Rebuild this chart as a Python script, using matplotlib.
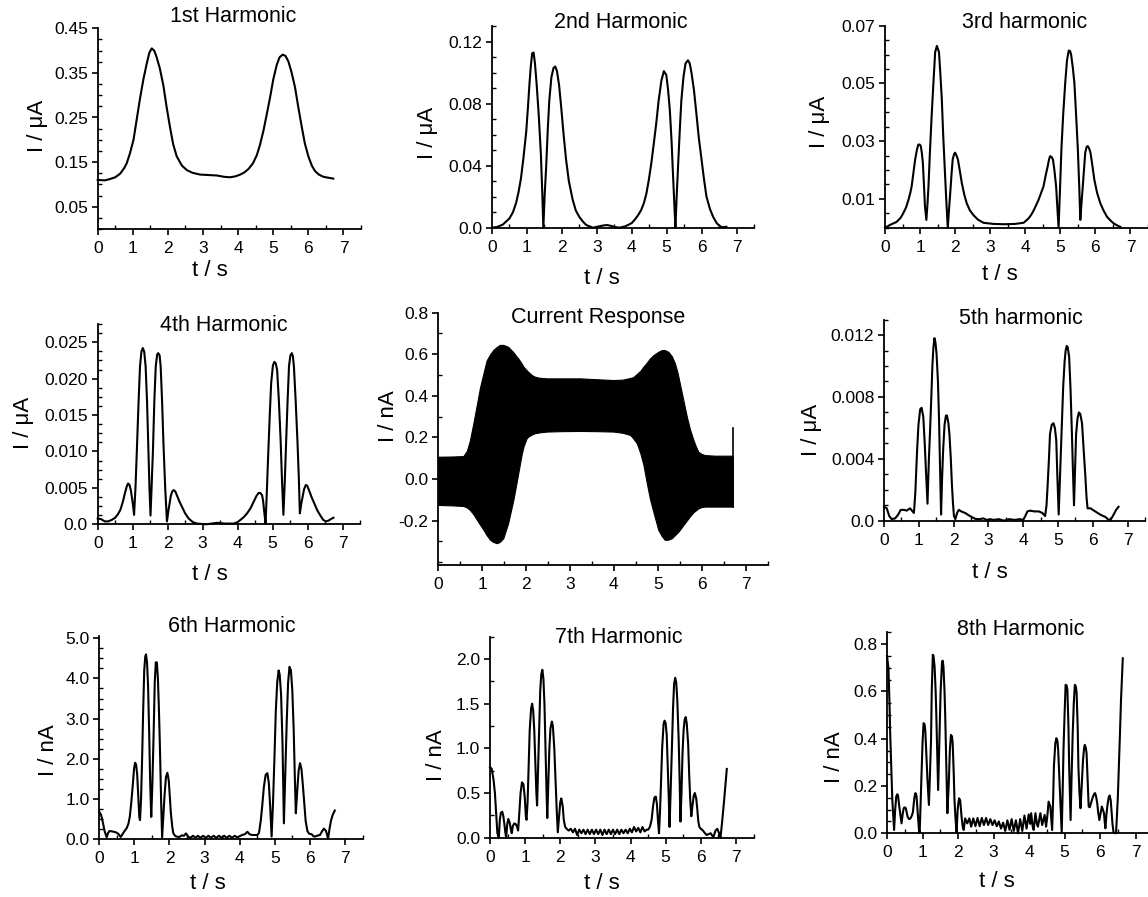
import matplotlib
matplotlib.use("Agg")
import matplotlib.pyplot as plt
from matplotlib.ticker import AutoMinorLocator

plt.rcParams['font.family'] = ['Liberation Sans', 'DejaVu Sans']

# ---- data (t in s) ----
# 1st harmonic (uA)
t_h1 = [0, 0.2, 0.35, 0.5, 0.64, 0.75, 0.83, 0.92, 1.02, 1.1, 1.2, 1.3, 1.4, 1.47, 1.54, 1.61,
        1.68, 1.77, 1.87, 1.96, 2.06, 2.15, 2.25, 2.4, 2.54, 2.7, 2.92, 3.15, 3.39, 3.6, 3.77,
        3.92, 4.06, 4.18, 4.3, 4.42, 4.53, 4.62, 4.72, 4.81, 4.91, 5.0, 5.1, 5.18, 5.27, 5.35,
        5.43, 5.52, 5.62, 5.71, 5.81, 5.9, 6.0, 6.1, 6.19, 6.3, 6.43, 6.57, 6.71]
i_h1 = [0.110, 0.109, 0.112, 0.116, 0.124, 0.136, 0.148, 0.170, 0.200, 0.240, 0.290, 0.335,
        0.372, 0.395, 0.405, 0.400, 0.385, 0.360, 0.322, 0.275, 0.228, 0.190, 0.163, 0.142,
        0.132, 0.126, 0.122, 0.121, 0.120, 0.117, 0.116, 0.118, 0.122, 0.127, 0.135, 0.147,
        0.165, 0.188, 0.220, 0.255, 0.295, 0.335, 0.368, 0.385, 0.391, 0.388, 0.376, 0.352,
        0.318, 0.275, 0.230, 0.192, 0.163, 0.142, 0.130, 0.122, 0.117, 0.115, 0.113]

# 2nd harmonic (uA)
t_h2 = [0, 0.15, 0.31, 0.5, 0.6, 0.69, 0.76, 0.83, 0.9, 0.98, 1.03, 1.07, 1.11, 1.15, 1.19,
        1.23, 1.28, 1.34, 1.4, 1.44, 1.47, 1.51, 1.55, 1.6, 1.64, 1.7, 1.76, 1.81, 1.86, 1.92,
        1.98, 2.05, 2.12, 2.2, 2.31, 2.4, 2.5, 2.6, 2.7, 2.89, 3.05, 3.2, 3.3, 3.4, 3.5, 3.65,
        3.8, 3.89, 4.0, 4.08, 4.18, 4.27, 4.35, 4.42, 4.49, 4.56, 4.63, 4.7, 4.77, 4.85, 4.92,
        4.99, 5.04, 5.09, 5.14, 5.18, 5.22, 5.25, 5.29, 5.33, 5.38, 5.42, 5.48, 5.54, 5.61,
        5.66, 5.71, 5.78, 5.85, 5.92, 6.0, 6.07, 6.14, 6.24, 6.33, 6.43, 6.52, 6.6, 6.71]
i_h2 = [0, 0.0005, 0.002, 0.006, 0.010, 0.016, 0.023, 0.032, 0.045, 0.062, 0.078, 0.092,
        0.104, 0.1125, 0.113, 0.106, 0.092, 0.072, 0.047, 0.022, 0.0, 0.022, 0.039, 0.065,
        0.082, 0.097, 0.103, 0.104, 0.101, 0.092, 0.078, 0.060, 0.044, 0.030, 0.018, 0.011,
        0.007, 0.004, 0.0017, 0.0, 0.0008, 0.0015, 0.0017, 0.0012, 0.0005, 0.0, 0.0008,
        0.0017, 0.003, 0.005, 0.008, 0.0114, 0.016, 0.022, 0.031, 0.0415, 0.054, 0.067,
        0.082, 0.095, 0.101, 0.0985, 0.089, 0.076, 0.056, 0.035, 0.015, 0.0, 0.022, 0.0415,
        0.065, 0.082, 0.097, 0.106, 0.108, 0.106, 0.100, 0.089, 0.0738, 0.058, 0.0437,
        0.031, 0.020, 0.012, 0.007, 0.003, 0.001, 0.0003, 0.0006]

# 3rd harmonic (uA)
t_h3 = [0, 0.15, 0.33, 0.45, 0.52, 0.6, 0.67, 0.72, 0.76, 0.81, 0.86, 0.91, 0.95, 0.99, 1.02,
        1.05, 1.08, 1.11, 1.14, 1.18, 1.21, 1.24, 1.28, 1.33, 1.38, 1.43, 1.48, 1.54, 1.58,
        1.62, 1.66, 1.71, 1.75, 1.79, 1.83, 1.86, 1.9, 1.93, 1.97, 2.0, 2.04, 2.08, 2.13, 2.19,
        2.26, 2.33, 2.42, 2.52, 2.65, 2.81, 3.1, 3.38, 3.7, 3.95, 4.03, 4.1, 4.17, 4.24, 4.31,
        4.38, 4.45, 4.52, 4.58, 4.64, 4.68, 4.71, 4.75, 4.79, 4.83, 4.88, 4.91, 4.95, 4.99,
        5.03, 5.08, 5.14, 5.19, 5.24, 5.28, 5.31, 5.36, 5.4, 5.45, 5.5, 5.54, 5.57, 5.6, 5.64,
        5.68, 5.71, 5.75, 5.78, 5.82, 5.86, 5.92, 5.97, 6.05, 6.14, 6.23, 6.33, 6.43, 6.52,
        6.62, 6.71]
i_h3 = [0, 0.001, 0.002, 0.0035, 0.005, 0.007, 0.0097, 0.012, 0.0143, 0.019, 0.0236, 0.027,
        0.0288, 0.0288, 0.0283, 0.026, 0.0224, 0.015, 0.0073, 0.0027, 0.008, 0.0143, 0.026,
        0.0387, 0.050, 0.0608, 0.063, 0.0608, 0.053, 0.0445, 0.032, 0.019, 0.009, 0.0, 0.007,
        0.012, 0.019, 0.0236, 0.0255, 0.026, 0.025, 0.0236, 0.020, 0.0155, 0.0115, 0.0085,
        0.006, 0.0044, 0.0028, 0.0017, 0.0013, 0.0012, 0.0013, 0.0017, 0.0025, 0.0033,
        0.0045, 0.006, 0.0078, 0.0097, 0.012, 0.0143, 0.018, 0.0213, 0.0238, 0.0248, 0.0245,
        0.0236, 0.020, 0.0143, 0.008, 0.0, 0.013, 0.027, 0.039, 0.0503, 0.058, 0.0614, 0.0612,
        0.0598, 0.055, 0.0503, 0.039, 0.027, 0.014, 0.0027, 0.008, 0.0143, 0.021, 0.026,
        0.028, 0.0283, 0.0275, 0.026, 0.021, 0.0166, 0.012, 0.0085, 0.006, 0.0038, 0.0025,
        0.0015, 0.0008, 0.0003]

# 4th harmonic (uA)
t_h4 = [0, 0.1, 0.2, 0.3, 0.4, 0.5, 0.58, 0.65, 0.72, 0.78, 0.83, 0.87, 0.91, 0.95, 0.99,
        1.02, 1.04, 1.08, 1.12, 1.17, 1.21, 1.25, 1.29, 1.33, 1.37, 1.41, 1.45, 1.48, 1.51,
        1.54, 1.58, 1.62, 1.66, 1.7, 1.73, 1.77, 1.8, 1.84, 1.88, 1.93, 1.98, 2.02, 2.05, 2.09,
        2.13, 2.17, 2.22, 2.28, 2.35, 2.41, 2.5, 2.6, 2.72, 2.84, 3.1, 3.41, 3.65, 3.89, 4.0,
        4.08, 4.18, 4.27, 4.37, 4.46, 4.54, 4.6, 4.65, 4.7, 4.73, 4.76, 4.8, 4.84, 4.88, 4.92,
        4.96, 5.01, 5.05, 5.09, 5.13, 5.18, 5.23, 5.27, 5.31, 5.35, 5.39, 5.43, 5.47, 5.51,
        5.55, 5.58, 5.61, 5.66, 5.71, 5.75, 5.78, 5.82, 5.86, 5.9, 5.95, 5.99, 6.04, 6.11,
        6.19, 6.28, 6.38, 6.45, 6.52, 6.6, 6.66, 6.74]
i_h4 = [0.0008, 0.0007, 0.0004, 0.0004, 0.0006, 0.0009, 0.0014, 0.002, 0.0031, 0.0043,
        0.0052, 0.0056, 0.0054, 0.0046, 0.0033, 0.0022, 0.0013, 0.005, 0.0102, 0.017, 0.0217,
        0.0237, 0.0242, 0.0237, 0.0217, 0.017, 0.0102, 0.005, 0.0012, 0.005, 0.0102, 0.017,
        0.0217, 0.0233, 0.0235, 0.0232, 0.0217, 0.017, 0.0111, 0.005, 0.0004, 0.0018, 0.0027,
        0.0039, 0.0045, 0.0047, 0.0045, 0.0038, 0.003, 0.0024, 0.0015, 0.0008, 0.0003, 0.0001,
        0.0, 0.0002, 0.0001, 0.0001, 0.0003, 0.0006, 0.001, 0.0015, 0.0022, 0.0031, 0.0039,
        0.0043, 0.0043, 0.004, 0.0032, 0.0018, 0.0001, 0.005, 0.0102, 0.015, 0.0194, 0.0218,
        0.0223, 0.0221, 0.0212, 0.017, 0.0116, 0.006, 0.0013, 0.006, 0.0116, 0.017, 0.0217,
        0.0232, 0.0235, 0.0231, 0.0217, 0.017, 0.0116, 0.0065, 0.0015, 0.0028, 0.0038, 0.0048,
        0.0054, 0.0053, 0.0047, 0.0038, 0.0029, 0.0019, 0.0011, 0.0006, 0.0004, 0.0005,
        0.0007, 0.0009]

# current response envelope (nA)
t_cur = [0, 0.3, 0.57, 0.65, 0.72, 0.8, 0.88, 0.95, 1.03, 1.1, 1.18, 1.25, 1.33, 1.4, 1.48,
         1.59, 1.71, 1.78, 1.82, 1.9, 1.94, 2.01, 2.05, 2.13, 2.2, 2.3, 2.47, 2.8, 3.23, 3.6,
         3.99, 4.2, 4.37, 4.44, 4.52, 4.6, 4.67, 4.75, 4.82, 4.9, 5.01, 5.09, 5.16, 5.24, 5.32,
         5.39, 5.45, 5.5, 5.58, 5.66, 5.73, 5.81, 5.86, 5.92, 6.0, 6.07, 6.3, 6.5, 6.71]
cur_hi = [0.107, 0.108, 0.110, 0.135, 0.185, 0.27, 0.36, 0.44, 0.51, 0.57, 0.60, 0.62, 0.635,
          0.645, 0.645, 0.636, 0.61, 0.59, 0.58, 0.555, 0.54, 0.524, 0.515, 0.50, 0.492, 0.487,
          0.484, 0.484, 0.484, 0.48, 0.476, 0.478, 0.486, 0.49, 0.505, 0.52, 0.54, 0.56, 0.58,
          0.596, 0.612, 0.62, 0.62, 0.612, 0.59, 0.556, 0.51, 0.46, 0.38, 0.30, 0.24, 0.188,
          0.16, 0.131, 0.12, 0.115, 0.112, 0.112, 0.112]
cur_lo = [-0.125, -0.127, -0.13, -0.137, -0.149, -0.17, -0.197, -0.22, -0.245, -0.27, -0.293,
          -0.303, -0.309, -0.303, -0.285, -0.213, -0.1, -0.02, 0.027, 0.12, 0.156, 0.195,
          0.204, 0.214, 0.22, 0.224, 0.228, 0.23, 0.231, 0.23, 0.228, 0.222, 0.212, 0.195,
          0.172, 0.125, 0.07, -0.021, -0.095, -0.16, -0.245, -0.275, -0.293, -0.292, -0.285,
          -0.27, -0.258, -0.245, -0.222, -0.2, -0.18, -0.16, -0.152, -0.142, -0.135, -0.133,
          -0.133, -0.133, -0.133]
t_spike = [6.72, 6.72]
i_spike = [-0.133, 0.244]

# 5th harmonic (uA)
t_h5 = [0, 0.08, 0.15, 0.22, 0.32, 0.41, 0.48, 0.58, 0.65, 0.75, 0.82, 0.86, 0.9, 0.95, 0.99,
        1.04, 1.08, 1.13, 1.17, 1.2, 1.25, 1.29, 1.32, 1.36, 1.39, 1.42, 1.45, 1.48, 1.51, 1.55,
        1.58, 1.61, 1.64, 1.67, 1.7, 1.74, 1.78, 1.81, 1.85, 1.88, 1.92, 1.95, 1.98, 2.01, 2.05,
        2.1, 2.15, 2.22, 2.33, 2.47, 2.62, 2.75, 2.86, 2.95, 3.05, 3.15, 3.3, 3.45, 3.6, 3.75,
        3.9, 4.0, 4.06, 4.12, 4.2, 4.32, 4.45, 4.55, 4.63, 4.67, 4.7, 4.74, 4.77, 4.82, 4.87,
        4.91, 4.95, 4.98, 5.02, 5.06, 5.11, 5.15, 5.19, 5.22, 5.25, 5.28, 5.32, 5.36, 5.4, 5.43,
        5.46, 5.49, 5.52, 5.56, 5.6, 5.64, 5.69, 5.74, 5.78, 5.82, 5.85, 5.9, 5.94, 6.0, 6.07,
        6.14, 6.21, 6.3, 6.36, 6.43, 6.5, 6.55, 6.6, 6.67, 6.74]
i_h5 = [0.0009, 0.0008, 0.0003, 0.0001, 0.00015, 0.0004, 0.0007, 0.0007, 0.00065, 0.0008,
        0.0006, 0.0005, 0.0018, 0.0045, 0.0062, 0.0072, 0.0073, 0.0067, 0.005, 0.0035, 0.0011,
        0.004, 0.0056, 0.008, 0.010, 0.0112, 0.0118, 0.0115, 0.0108, 0.009, 0.0067, 0.0035,
        0.0004, 0.0028, 0.0046, 0.0062, 0.0068, 0.0068, 0.0063, 0.0056, 0.004, 0.0024, 0.0012,
        0.0003, 0.0001, 0.0005, 0.0007, 0.0006, 0.0005, 0.0003, 0.00012, 0.0001, 0.00015,
        0.00005, 0.0001, 0.00005, 0.0001, 0.0, 0.0001, 0.00005, 0.0001, 0.00005, 0.0003, 0.0006,
        0.00065, 0.0006, 0.0006, 0.0005, 0.0003, 0.001, 0.0022, 0.004, 0.0056, 0.0062, 0.0063,
        0.006, 0.0052, 0.003, 0.0004, 0.003, 0.0062, 0.0087, 0.0103, 0.011, 0.0113, 0.0112,
        0.0106, 0.0085, 0.0056, 0.0032, 0.001, 0.0033, 0.0056, 0.0066, 0.007, 0.0069, 0.0063,
        0.0045, 0.0031, 0.0015, 0.0008, 0.0008, 0.0008, 0.0007, 0.0006, 0.0005, 0.0004, 0.0003,
        0.00025, 0.0001, 0.00004, 0.0002, 0.0004, 0.0007, 0.0009]

# 6th harmonic (nA)
t_h6 = [0, 0.05, 0.1, 0.15, 0.21, 0.25, 0.29, 0.35, 0.42, 0.49, 0.55, 0.61, 0.66, 0.72, 0.78,
        0.83, 0.87, 0.91, 0.95, 0.99, 1.02, 1.05, 1.08, 1.11, 1.14, 1.16, 1.19, 1.22, 1.25,
        1.28, 1.31, 1.33, 1.36, 1.39, 1.42, 1.45, 1.48, 1.51, 1.55, 1.58, 1.61, 1.64, 1.67,
        1.7, 1.73, 1.76, 1.79, 1.82, 1.86, 1.9, 1.94, 1.98, 2.01, 2.04, 2.08, 2.11, 2.16, 2.2,
        2.28, 2.35, 2.41, 2.47, 2.53, 2.6, 2.67, 2.74, 2.81, 2.88, 2.96, 3.03, 3.11, 3.18,
        3.26, 3.33, 3.41, 3.48, 3.56, 3.63, 3.71, 3.78, 3.86, 3.93, 4.0, 4.07, 4.15, 4.22,
        4.28, 4.35, 4.43, 4.5, 4.55, 4.6, 4.64, 4.69, 4.74, 4.79, 4.83, 4.87, 4.91, 4.95,
        4.99, 5.03, 5.07, 5.11, 5.14, 5.18, 5.22, 5.26, 5.3, 5.34, 5.38, 5.42, 5.46, 5.5,
        5.54, 5.57, 5.6, 5.64, 5.68, 5.72, 5.76, 5.8, 5.84, 5.88, 5.93, 5.98, 6.05, 6.1, 6.14,
        6.2, 6.29, 6.34, 6.4, 6.46, 6.5, 6.52, 6.56, 6.6, 6.65, 6.71]
i_h6 = [0.68, 0.6, 0.42, 0.2, 0.04, 0.15, 0.2, 0.19, 0.18, 0.16, 0.12, 0.05, 0.12, 0.2, 0.27,
        0.38, 0.56, 0.9, 1.3, 1.75, 1.9, 1.85, 1.6, 1.1, 0.55, 0.47, 1.0, 2.0, 3.2, 4.2, 4.55,
        4.6, 4.4, 3.8, 2.7, 1.4, 0.55, 1.3, 2.7, 3.9, 4.4, 4.4, 4.0, 3.2, 2.2, 1.0, 0.04, 0.5,
        1.1, 1.55, 1.65, 1.45, 1.05, 0.64, 0.3, 0.14, 0.08, 0.06, 0.05, 0.09, 0.08, 0.14, 0.06,
        0.03, 0.08, 0.03, 0.08, 0.03, 0.08, 0.03, 0.08, 0.03, 0.08, 0.03, 0.08, 0.03, 0.08,
        0.03, 0.08, 0.03, 0.08, 0.04, 0.07, 0.1, 0.12, 0.18, 0.12, 0.1, 0.1, 0.1, 0.15, 0.45,
        0.8, 1.3, 1.6, 1.64, 1.4, 0.8, 0.06, 0.9, 2.0, 3.2, 3.9, 4.2, 4.1, 3.6, 2.4, 0.39,
        1.6, 2.9, 3.9, 4.29, 4.2, 3.7, 2.7, 1.6, 0.64, 1.2, 1.7, 1.89, 1.75, 1.35, 0.9, 0.45,
        0.2, 0.13, 0.12, 0.07, 0.06, 0.08, 0.1, 0.18, 0.26, 0.2, 0.08, 0.02, 0.25, 0.45, 0.6,
        0.71]

# 7th harmonic (nA)
t_h7 = [0, 0.05, 0.1, 0.14, 0.18, 0.21, 0.25, 0.28, 0.31, 0.35, 0.38, 0.41, 0.44, 0.46, 0.49,
        0.52, 0.56, 0.59, 0.62, 0.65, 0.69, 0.74, 0.77, 0.8, 0.83, 0.87, 0.91, 0.95, 0.99,
        1.02, 1.04, 1.07, 1.1, 1.13, 1.17, 1.2, 1.23, 1.26, 1.29, 1.32, 1.34, 1.37, 1.4, 1.43,
        1.46, 1.49, 1.52, 1.55, 1.58, 1.61, 1.63, 1.66, 1.69, 1.72, 1.76, 1.79, 1.83, 1.87,
        1.9, 1.93, 1.96, 2.0, 2.03, 2.07, 2.1, 2.14, 2.18, 2.24, 2.3, 2.36, 2.42, 2.48, 2.54,
        2.6, 2.66, 2.72, 2.78, 2.84, 2.9, 2.96, 3.02, 3.08, 3.14, 3.2, 3.26, 3.32, 3.38, 3.44,
        3.5, 3.56, 3.62, 3.68, 3.74, 3.8, 3.86, 3.92, 3.98, 4.04, 4.1, 4.16, 4.22, 4.28, 4.34,
        4.4, 4.46, 4.5, 4.55, 4.6, 4.64, 4.68, 4.72, 4.75, 4.78, 4.81, 4.84, 4.87, 4.9, 4.94,
        4.97, 5.0, 5.03, 5.06, 5.09, 5.11, 5.14, 5.18, 5.21, 5.24, 5.27, 5.3, 5.33, 5.37, 5.4,
        5.42, 5.45, 5.48, 5.51, 5.54, 5.57, 5.6, 5.64, 5.67, 5.7, 5.73, 5.76, 5.8, 5.83, 5.87,
        5.9, 5.93, 5.96, 6.0, 6.06, 6.12, 6.17, 6.22, 6.28, 6.33, 6.36, 6.42, 6.47, 6.52, 6.56,
        6.6, 6.66, 6.74]
i_h7 = [0.79, 0.77, 0.65, 0.5, 0.25, 0.05, 0.0, 0.2, 0.28, 0.29, 0.24, 0.15, 0.05, 0.0, 0.15,
        0.21, 0.17, 0.1, 0.05, 0.13, 0.16, 0.15, 0.12, 0.08, 0.25, 0.5, 0.62, 0.6, 0.45, 0.24,
        0.2, 0.4, 0.8, 1.2, 1.45, 1.5, 1.42, 1.2, 0.85, 0.5, 0.36, 0.8, 1.25, 1.65, 1.83, 1.88,
        1.78, 1.5, 0.98, 0.5, 0.22, 0.6, 1.0, 1.22, 1.3, 1.25, 1.0, 0.6, 0.3, 0.06, 0.2, 0.4,
        0.44, 0.35, 0.2, 0.12, 0.1, 0.08, 0.1, 0.06, 0.1, 0.03, 0.09, 0.05, 0.09, 0.04, 0.09,
        0.04, 0.09, 0.04, 0.09, 0.04, 0.09, 0.03, 0.09, 0.04, 0.09, 0.04, 0.09, 0.04, 0.09,
        0.04, 0.09, 0.05, 0.09, 0.05, 0.1, 0.06, 0.12, 0.07, 0.11, 0.06, 0.12, 0.07, 0.09,
        0.09, 0.12, 0.2, 0.35, 0.45, 0.46, 0.38, 0.2, 0.05, 0.3, 0.65, 1.0, 1.27, 1.31, 1.28,
        1.15, 0.8, 0.42, 0.12, 0.5, 1.05, 1.45, 1.72, 1.79, 1.74, 1.55, 1.1, 0.6, 0.18, 0.5,
        0.95, 1.2, 1.32, 1.35, 1.28, 1.05, 0.7, 0.42, 0.24, 0.35, 0.47, 0.5, 0.44, 0.32, 0.18,
        0.12, 0.1, 0.08, 0.05, 0.03, 0.04, 0.05, 0.02, 0.01, 0.08, 0.1, 0.05, 0.0, 0.15, 0.4,
        0.77]

# 8th harmonic (nA)
t_h8 = [0, 0.04, 0.07, 0.09, 0.12, 0.15, 0.2, 0.23, 0.26, 0.29, 0.31, 0.34, 0.37, 0.41, 0.44,
        0.47, 0.5, 0.53, 0.58, 0.62, 0.66, 0.7, 0.73, 0.77, 0.8, 0.83, 0.86, 0.9, 0.92, 0.95,
        0.97, 1.0, 1.03, 1.06, 1.08, 1.11, 1.14, 1.18, 1.21, 1.24, 1.26, 1.29, 1.31, 1.34,
        1.37, 1.39, 1.42, 1.44, 1.46, 1.48, 1.51, 1.55, 1.57, 1.59, 1.62, 1.64, 1.67, 1.7,
        1.72, 1.74, 1.77, 1.8, 1.83, 1.85, 1.88, 1.9, 1.93, 1.96, 1.99, 2.01, 2.03, 2.06, 2.1,
        2.13, 2.16, 2.2, 2.26, 2.32, 2.37, 2.43, 2.49, 2.55, 2.61, 2.67, 2.73, 2.79, 2.85,
        2.91, 2.97, 3.03, 3.09, 3.15, 3.21, 3.27, 3.33, 3.39, 3.45, 3.51, 3.57, 3.63, 3.69,
        3.75, 3.81, 3.87, 3.93, 3.99, 4.03, 4.06, 4.1, 4.13, 4.18, 4.22, 4.25, 4.32, 4.37,
        4.44, 4.48, 4.52, 4.55, 4.6, 4.63, 4.65, 4.68, 4.7, 4.74, 4.77, 4.8, 4.82, 4.85, 4.88,
        4.92, 4.95, 4.97, 5.0, 5.03, 5.06, 5.08, 5.11, 5.13, 5.17, 5.2, 5.23, 5.26, 5.29,
        5.32, 5.34, 5.37, 5.39, 5.42, 5.45, 5.49, 5.52, 5.55, 5.57, 5.6, 5.62, 5.65, 5.68,
        5.71, 5.73, 5.77, 5.8, 5.84, 5.86, 5.89, 5.92, 5.95, 5.98, 6.02, 6.05, 6.08, 6.11,
        6.13, 6.15, 6.18, 6.21, 6.24, 6.27, 6.3, 6.32, 6.35, 6.38, 6.45, 6.5, 6.53, 6.56,
        6.59, 6.64]
i_h8 = [0.75, 0.7, 0.55, 0.42, 0.28, 0.14, 0.014, 0.1, 0.155, 0.165, 0.16, 0.12, 0.085, 0.042,
        0.08, 0.106, 0.11, 0.106, 0.07, 0.06, 0.063, 0.075, 0.09, 0.15, 0.17, 0.16, 0.1, 0.014,
        0.003, 0.15, 0.24, 0.38, 0.466, 0.46, 0.43, 0.33, 0.226, 0.12, 0.25, 0.395, 0.6,
        0.755, 0.75, 0.705, 0.6, 0.494, 0.3, 0.183, 0.3, 0.423, 0.6, 0.727, 0.73, 0.705, 0.6,
        0.494, 0.28, 0.085, 0.15, 0.212, 0.35, 0.416, 0.41, 0.38, 0.25, 0.141, 0.06, 0.003,
        0.1, 0.127, 0.148, 0.14, 0.07, 0.03, 0.014, 0.063, 0.042, 0.063, 0.028, 0.063, 0.03,
        0.065, 0.03, 0.065, 0.035, 0.065, 0.035, 0.06, 0.035, 0.055, 0.03, 0.05, 0.02, 0.045,
        0.01, 0.055, 0.015, 0.06, 0.01, 0.055, 0.0, 0.06, 0.01, 0.075, 0.02, 0.08, 0.04,
        0.085, 0.03, 0.014, 0.085, 0.04, 0.028, 0.085, 0.035, 0.078, 0.028, 0.08, 0.134,
        0.113, 0.05, 0.014, 0.15, 0.282, 0.38, 0.402, 0.39, 0.353, 0.25, 0.141, 0.003, 0.2,
        0.353, 0.5, 0.628, 0.625, 0.607, 0.45, 0.282, 0.056, 0.25, 0.423, 0.55, 0.628, 0.62,
        0.593, 0.45, 0.282, 0.17, 0.106, 0.22, 0.31, 0.36, 0.374, 0.36, 0.339, 0.22, 0.113,
        0.11, 0.12, 0.14, 0.155, 0.168, 0.17, 0.155, 0.127, 0.085, 0.056, 0.09, 0.113, 0.1,
        0.085, 0.05, 0.021, 0.08, 0.12, 0.15, 0.16, 0.14, 0.1, 0.04, 0.003, 0.0, 0.15, 0.282,
        0.42, 0.564, 0.74]

# ---- figure layout (pixel boxes of each panel) ----
W, H = 1148, 897
fig = plt.figure(figsize=(W / 100, H / 100), dpi=100)


def box(l, t, r, b):
    return [l / W, 1 - b / H, (r - l) / W, (b - t) / H]


def ftext(x, y, s, size, rot=0):
    fig.text(x / W, 1 - y / H, s, ha='center', va='center', fontsize=size, rotation=rot)


def panel(rect, xmax, ylim, yticks, ylabels, ynminor):
    ax = fig.add_axes(rect)
    ax.set_xlim(0, xmax)
    ax.set_ylim(*ylim)
    ax.spines[['top', 'right']].set_visible(False)
    for s in ('left', 'bottom'):
        ax.spines[s].set_linewidth(1.3)
    ax.set_xticks(range(8))
    ax.set_xticklabels([str(v) for v in range(8)])
    ax.set_yticks(yticks)
    ax.set_yticklabels(ylabels)
    ax.xaxis.set_minor_locator(AutoMinorLocator(2))
    ax.yaxis.set_minor_locator(AutoMinorLocator(ynminor))
    ax.tick_params(which='major', direction='out', length=4, width=1.2, labelsize=12.5, pad=3)
    ax.tick_params(axis='x', which='major', pad=4.5)
    ax.tick_params(which='minor', direction='in', length=3, width=1.0)
    return ax


lw = 1.5
TS, LS = 15.5, 16

ax1 = panel(box(97.7, 28.3, 361, 229), 7.5, (0, 0.45),
            [0.05, 0.15, 0.25, 0.35, 0.45], ['0.05', '0.15', '0.25', '0.35', '0.45'], 4)
ax1.plot(t_h1, i_h1, color='black', lw=lw, clip_on=False)

ax2 = panel(box(492, 26.2, 754, 227.7), 7.5, (0, 0.13),
            [0, 0.04, 0.08, 0.12], ['0.0', '0.04', '0.08', '0.12'], 4)
ax2.plot(t_h2, i_h2, color='black', lw=lw, clip_on=False)

ax3 = panel(box(885, 25.7, 1148, 227.7), 7.5, (0, 0.07),
            [0.01, 0.03, 0.05, 0.07], ['0.01', '0.03', '0.05', '0.07'], 4)
ax3.plot(t_h3, i_h3, color='black', lw=lw, clip_on=False)

ax4 = panel(box(97.7, 324, 360, 524.3), 7.5, (0, 0.0275),
            [0, 0.005, 0.010, 0.015, 0.020, 0.025],
            ['0.0', '0.005', '0.010', '0.015', '0.020', '0.025'], 4)
ax4.plot(t_h4, i_h4, color='black', lw=lw, clip_on=False)

ax5 = panel(box(438.3, 312.7, 767.6, 565), 7.5, (-0.414, 0.8),
            [-0.2, 0, 0.2, 0.4, 0.6, 0.8], ['-0.2', '0.0', '0.2', '0.4', '0.6', '0.8'], 2)
ax5.fill_between(t_cur, cur_lo, cur_hi, color='black', lw=0.8)
ax5.plot(t_spike, i_spike, color='black', lw=1.2)

ax6 = panel(box(884, 319.6, 1145, 520.7), 7.5, (0, 0.013),
            [0, 0.004, 0.008, 0.012], ['0.0', '0.004', '0.008', '0.012'], 4)
ax6.plot(t_h5, i_h5, color='black', lw=lw, clip_on=False)

ax7 = panel(box(99.3, 636.3, 362.5, 839), 7.5, (0, 5.05),
            [0, 1, 2, 3, 4, 5], ['0.0', '1.0', '2.0', '3.0', '4.0', '5.0'], 4)
ax7.plot(t_h6, i_h6, color='black', lw=lw, clip_on=False)

ax8 = panel(box(490, 636.7, 753.5, 837.7), 7.5, (0, 2.25),
            [0, 0.5, 1.0, 1.5, 2.0], ['0.0', '0.5', '1.0', '1.5', '2.0'], 2)
ax8.plot(t_h7, i_h7, color='black', lw=lw, clip_on=False)

ax9 = panel(box(887, 632.3, 1148, 833.3), 7.35, (0, 0.85),
            [0, 0.2, 0.4, 0.6, 0.8], ['0.0', '0.2', '0.4', '0.6', '0.8'], 4)
ax9.plot(t_h8, i_h8, color='black', lw=lw, clip_on=False)

# titles
ftext(233, 16, '1st Harmonic', TS)
ftext(621, 23, '2nd Harmonic', TS)
ftext(1025, 22, '3rd harmonic', TS)
ftext(224, 325, '4th Harmonic', TS)
ftext(598, 318, 'Current Response', TS)
ftext(1021, 318, '5th harmonic', TS)
ftext(232, 626, '6th Harmonic', TS)
ftext(619, 637, '7th Harmonic', TS)
ftext(1021, 629, '8th Harmonic', TS)

# x labels
for x, y in [(210, 270), (602, 279), (1000, 274), (210, 574), (990, 572),
             (208, 883), (602, 883), (997, 881)]:
    ftext(x, y, 't / s', LS)

# y labels
for x, y in [(37, 126), (427, 133), (820, 122), (23, 423), (812, 430)]:
    ftext(x, y, 'I / μA', LS, rot=90)
for x, y in [(389, 416), (48, 750), (436, 755), (834, 757)]:
    ftext(x, y, 'I / nA', LS, rot=90)

fig.savefig('out.png', dpi=100)
